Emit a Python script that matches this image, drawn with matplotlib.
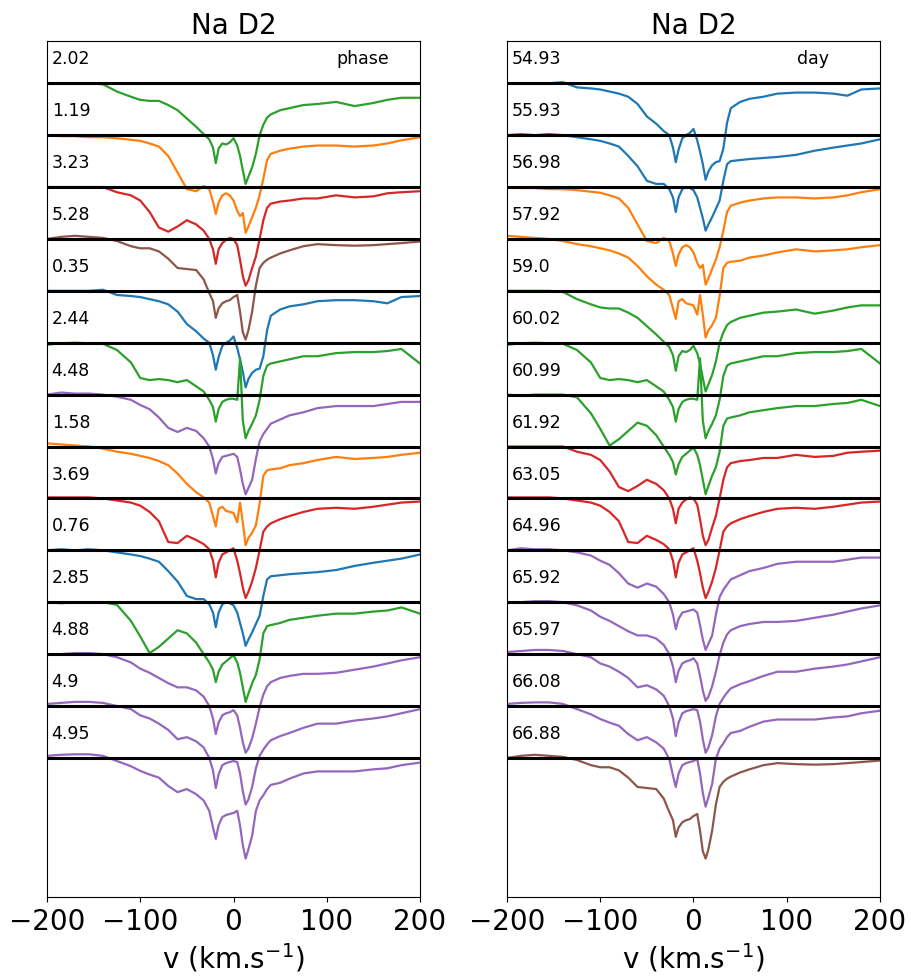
import numpy as np
import matplotlib
matplotlib.use('Agg')
import matplotlib.pyplot as plt

# observation days and the corresponding phases
days = [54.93, 55.93, 56.98, 57.92, 59.0, 60.02, 60.99, 61.92, 63.05, 64.96, 65.92, 65.97, 66.08, 66.88]
phases = [0.35, 0.76, 1.19, 1.58, 2.02, 2.44, 2.85, 3.23, 3.69, 4.48, 4.88, 4.9, 4.95, 5.28]

# velocity grid (km/s)
v = [-200, -185, -170, -155, -140, -125, -110, -100, -90, -80, -70, -60, -50, -40, -32, -26,
     -22, -19, -16, -12, -8, -4, 0, 4, 7, 10, 13, 16, 20, 24, 28, 32, 36, 40, 50, 60, 75,
     90, 110, 130, 150, 165, 180, 200]

# normalised Na D2 profiles, one per night
f_5493 = [1.0, 1.0, 1.0, 1.0, 1.01, 0.96, 0.95, 0.94, 0.92, 0.90, 0.87, 0.80, 0.68, 0.61, 0.54, 0.50,
          0.38, 0.24, 0.36, 0.47, 0.50, 0.52, 0.56, 0.45, 0.34, 0.22, 0.07, 0.15, 0.21, 0.24, 0.25, 0.37,
          0.62, 0.76, 0.82, 0.85, 0.87, 0.90, 0.91, 0.91, 0.90, 0.88, 0.94, 0.95]
f_5593 = [1.0, 1.01, 1.0, 1.01, 1.0, 0.98, 0.96, 0.945, 0.92, 0.89, 0.80, 0.70, 0.56, 0.53, 0.53, 0.48,
          0.40, 0.26, 0.40, 0.48, 0.50, 0.49, 0.47, 0.40, 0.30, 0.20, 0.08, 0.14, 0.21, 0.29, 0.37, 0.56,
          0.72, 0.75, 0.76, 0.77, 0.78, 0.79, 0.81, 0.85, 0.88, 0.90, 0.92, 0.96]
f_5698 = [1.0, 0.99, 0.99, 0.98, 0.98, 0.97, 0.955, 0.945, 0.92, 0.89, 0.80, 0.64, 0.48, 0.46, 0.51, 0.48,
          0.36, 0.24, 0.35, 0.42, 0.44, 0.42, 0.37, 0.27, 0.22, 0.25, 0.06, 0.12, 0.21, 0.30, 0.42, 0.58,
          0.76, 0.82, 0.85, 0.87, 0.89, 0.90, 0.90, 0.89, 0.90, 0.92, 0.95, 0.98]
f_5792 = [1.03, 1.02, 1.01, 1.0, 0.98, 0.95, 0.93, 0.91, 0.89, 0.86, 0.82, 0.74, 0.64, 0.56, 0.51, 0.46,
          0.33, 0.23, 0.40, 0.42, 0.38, 0.37, 0.36, 0.27, 0.46, 0.27, 0.05, 0.12, 0.17, 0.24, 0.45, 0.72,
          0.77, 0.78, 0.79, 0.82, 0.84, 0.87, 0.90, 0.88, 0.89, 0.90, 0.92, 0.94]
f_5900 = [1.0, 1.0, 1.0, 1.0, 0.99, 0.92, 0.87, 0.84, 0.83, 0.83, 0.79, 0.74, 0.66, 0.58, 0.51, 0.46,
          0.38, 0.23, 0.37, 0.42, 0.41, 0.43, 0.47, 0.40, 0.30, 0.16, 0.03, 0.10, 0.19, 0.32, 0.50, 0.60,
          0.67, 0.70, 0.74, 0.76, 0.79, 0.80, 0.82, 0.78, 0.81, 0.84, 0.86, 0.86]
f_6002 = [0.98, 0.995, 1.0, 0.995, 0.99, 0.93, 0.81, 0.66, 0.64, 0.65, 0.64, 0.62, 0.64, 0.58, 0.53, 0.45,
          0.38, 0.24, 0.36, 0.43, 0.45, 0.46, 0.46, 0.45, 0.85, 0.25, 0.08, 0.15, 0.22, 0.30, 0.45, 0.68,
          0.78, 0.80, 0.82, 0.84, 0.87, 0.87, 0.90, 0.91, 0.91, 0.92, 0.94, 0.80]
f_6099 = [1.0, 0.99, 1.0, 1.0, 1.0, 0.975, 0.82, 0.67, 0.51, 0.57, 0.65, 0.73, 0.70, 0.61, 0.50, 0.42,
          0.35, 0.23, 0.33, 0.40, 0.43, 0.46, 0.49, 0.42, 0.32, 0.18, 0.04, 0.12, 0.22, 0.30, 0.45, 0.70,
          0.77, 0.78, 0.80, 0.83, 0.85, 0.87, 0.89, 0.89, 0.91, 0.92, 0.95, 0.89]
f_6192 = [1.0, 1.0, 1.0, 1.0, 1.0, 0.95, 0.92, 0.87, 0.76, 0.61, 0.57, 0.62, 0.68, 0.64, 0.58, 0.50,
          0.40, 0.26, 0.40, 0.46, 0.49, 0.51, 0.50, 0.44, 0.30, 0.14, 0.05, 0.10, 0.22, 0.33, 0.50, 0.68,
          0.80, 0.84, 0.86, 0.87, 0.89, 0.89, 0.92, 0.90, 0.91, 0.94, 0.95, 0.96]
f_6305 = [1.01, 1.01, 1.01, 1.01, 1.0, 0.98, 0.96, 0.93, 0.87, 0.78, 0.58, 0.57, 0.64, 0.60, 0.56, 0.51,
          0.40, 0.24, 0.38, 0.46, 0.48, 0.50, 0.52, 0.40, 0.28, 0.14, 0.04, 0.10, 0.20, 0.33, 0.50, 0.68,
          0.73, 0.76, 0.80, 0.83, 0.87, 0.90, 0.91, 0.90, 0.92, 0.94, 0.96, 0.97]
f_6496 = [1.0, 1.02, 1.01, 1.01, 1.0, 0.98, 0.95, 0.90, 0.86, 0.78, 0.68, 0.64, 0.68, 0.65, 0.58, 0.50,
          0.38, 0.24, 0.34, 0.40, 0.41, 0.42, 0.43, 0.40, 0.28, 0.14, 0.04, 0.10, 0.18, 0.38, 0.55, 0.62,
          0.67, 0.72, 0.76, 0.80, 0.83, 0.87, 0.89, 0.89, 0.89, 0.91, 0.93, 0.93]
f_6592 = [1.0, 1.0, 1.01, 1.01, 1.0, 0.97, 0.92, 0.86, 0.82, 0.77, 0.72, 0.68, 0.68, 0.65, 0.59, 0.50,
          0.38, 0.23, 0.34, 0.41, 0.43, 0.44, 0.46, 0.41, 0.29, 0.15, 0.05, 0.09, 0.19, 0.33, 0.49, 0.61,
          0.69, 0.73, 0.77, 0.79, 0.81, 0.81, 0.82, 0.85, 0.88, 0.91, 0.94, 0.97]
f_6597 = [1.02, 1.03, 1.04, 1.04, 1.03, 1.0, 0.97, 0.91, 0.88, 0.83, 0.77, 0.68, 0.70, 0.66, 0.60, 0.50,
          0.38, 0.21, 0.34, 0.43, 0.45, 0.46, 0.47, 0.46, 0.35, 0.18, 0.05, 0.10, 0.22, 0.40, 0.52, 0.58,
          0.63, 0.67, 0.71, 0.74, 0.79, 0.83, 0.83, 0.86, 0.88, 0.90, 0.93, 0.97]
f_6608 = [1.02, 1.03, 1.035, 1.035, 1.02, 0.97, 0.92, 0.875, 0.84, 0.81, 0.73, 0.67, 0.70, 0.65, 0.59, 0.49,
          0.33, 0.22, 0.35, 0.43, 0.45, 0.46, 0.47, 0.49, 0.35, 0.16, 0.03, 0.12, 0.25, 0.49, 0.59, 0.64,
          0.70, 0.74, 0.76, 0.80, 0.85, 0.87, 0.87, 0.87, 0.89, 0.90, 0.93, 0.955]
f_6688 = [1.0, 1.02, 1.03, 1.02, 1.01, 0.98, 0.93, 0.91, 0.91, 0.88, 0.81, 0.72, 0.71, 0.70, 0.61, 0.48,
          0.40, 0.24, 0.33, 0.38, 0.40, 0.41, 0.44, 0.46, 0.30, 0.10, 0.03, 0.12, 0.30, 0.55, 0.72, 0.77,
          0.80, 0.82, 0.86, 0.89, 0.93, 0.95, 0.94, 0.935, 0.94, 0.95, 0.96, 0.975]

spectra = [f_5493, f_5593, f_5698, f_5792, f_5900, f_6002, f_6099,
           f_6192, f_6305, f_6496, f_6592, f_6597, f_6608, f_6688]

v = np.array(v)
step = 0.5

fig = plt.figure(figsize=(9.11, 9.78), dpi=100)
ax1 = fig.add_axes([47/911, 80/978, 373/911, 856/978])
ax2 = fig.add_axes([507/911, 80/978, 373/911, 856/978])

# left: sorted by fractional phase, right: by day
order_phase = np.argsort([p % 1 for p in phases], kind='stable')
order_day = np.arange(len(days))

for ax, order, labels, tag, tag_x in [(ax1, order_phase, phases, 'phase', 139),
                                       (ax2, order_day, days, 'day', 128)]:
    for row, k in enumerate(order):
        base = -step * row
        col = 'C%d' % int(phases[k])
        ax.plot(v, np.array(spectra[k]) - 1 + base, color=col, lw=1.6)
        ax.axhline(base, color='k', lw=2.2, zorder=3)
        ax.text(-195, base + 0.24, str(labels[k]), fontsize=12.5, va='center')
    ax.text(tag_x, 0.24, tag, fontsize=12.5, va='center', ha='center')
    ax.set_xlim(-200, 200)
    ax.set_ylim(-7.84, 0.407)
    ax.set_yticks([])
    ax.set_xticks([-200, -100, 0, 100, 200])
    ax.tick_params(axis='x', labelsize=20)
    ax.set_xlabel('v (km.s$^{-1}$)', fontsize=20)
    ax.set_title('Na D2', fontsize=20)

plt.savefig('out.png', dpi=100)
